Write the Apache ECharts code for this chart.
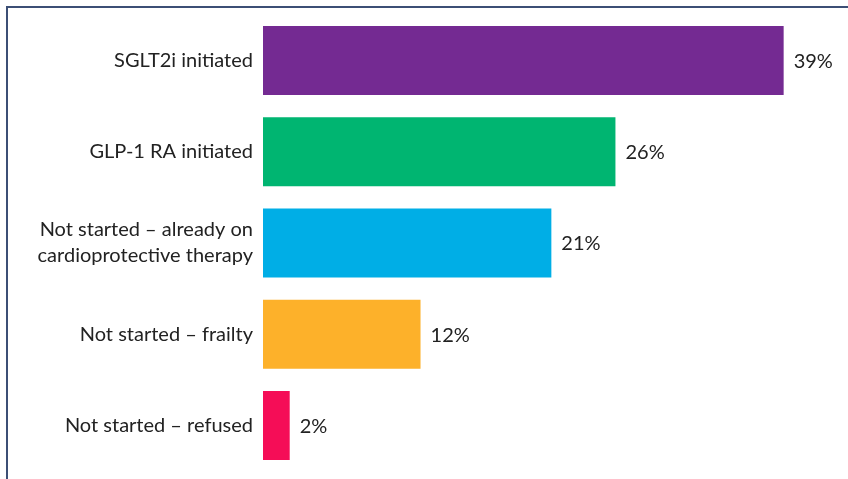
<!DOCTYPE html>
<html><head><meta charset="utf-8">
<script src="https://cdn.jsdelivr.net/npm/echarts@6/dist/echarts.min.js"></script>
<style>html,body{margin:0;padding:0;background:#fff}#c{width:848px;height:479px}</style>
</head><body><div id="c"></div>
<script>
const categories = ["SGLT2i initiated", "GLP-1 RA initiated", "Not started – already on\ncardioprotective therapy", "Not started – frailty", "Not started – refused"];
const values = [39, 26.4, 21.6, 11.8, 2];
const valueLabels = ["39%", "26%", "21%", "12%", "2%"];
const colors = ["#742a92", "#00b571", "#00aee6", "#fdb12a", "#f50d57"];

const chart = echarts.init(document.getElementById('c'), null, {renderer: 'canvas'});
const font = 'Lato';
chart.setOption({
  backgroundColor: '#fff',
  animation: false,
  graphic: [
    {type: 'line', shape: {x1: 6, y1: 7, x2: 848, y2: 7}, style: {stroke: '#3c4f75', lineWidth: 2}},
    {type: 'line', shape: {x1: 7, y1: 6, x2: 7, y2: 479}, style: {stroke: '#3c4f75', lineWidth: 2}}
  ],
  grid: {left: 263, right: 51, top: 15, bottom: 8},
  xAxis: {type: 'value', min: 0, max: 40, show: false},
  yAxis: {
    type: 'category', data: categories, inverse: true,
    axisLine: {show: false}, axisTick: {show: false},
    axisLabel: {margin: 10, fontFamily: font, fontSize: 20, color: '#222', align: 'right', lineHeight: 26}
  },
  series: [{
    type: 'bar', barWidth: 69,
    data: values.map((v, i) => ({value: v, itemStyle: {color: colors[i]}})),
    label: {show: true, position: 'right', distance: 10, offset: [0, 1], formatter: p => valueLabels[p.dataIndex], fontFamily: font, fontSize: 20, color: '#222'}
  }]
});
</script></body></html>
